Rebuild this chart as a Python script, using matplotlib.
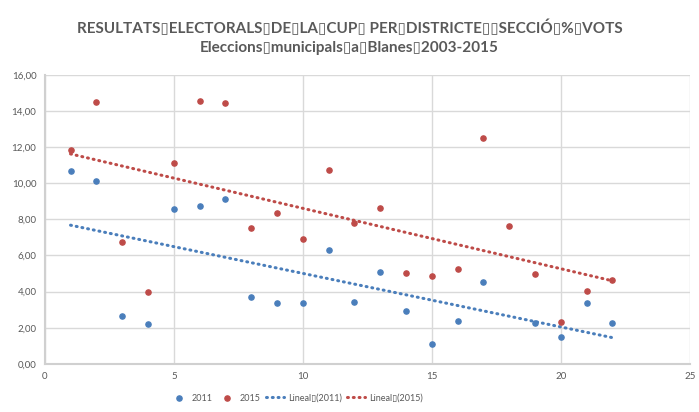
import numpy as np
import matplotlib.pyplot as plt
from matplotlib.ticker import FuncFormatter

# dades (districte / secció, % vots)
seccio = np.arange(1, 23)
vots_2011 = [10.68, 10.11, 2.64, 2.20, 8.58, 8.75, 9.13, 3.72, 3.38, 3.38, 6.30,
             3.43, 5.09, 2.93, 1.10, 2.38, 4.54, np.nan, 2.27, 1.50, 3.38, 2.27]
vots_2015 = [11.86, 14.50, 6.72, 3.99, 11.12, 14.55, 14.43, 7.51, 8.34, 6.93, 10.72,
             7.82, 8.64, 5.04, 4.86, 5.26, 12.53, 7.64, 4.98, 2.32, 4.04, 4.65]

blau = '#4a7ebb'
vermell = '#be4b48'
gris = '#595959'

plt.rcParams['font.family'] = ['Lato', 'DejaVu Sans']

fig = plt.figure(figsize=(6.99, 4.12), dpi=100)
ax = fig.add_axes([0.064, 0.117, 0.923, 0.701])

x = np.array(seccio, dtype=float)
for vals, color, any_ in [(vots_2011, blau, '2011'), (vots_2015, vermell, '2015')]:
    ax.scatter(x, vals, s=14, color=color, zorder=3, label=any_)

# línies de tendència lineals
for vals, color, any_ in [(vots_2011, blau, '2011'), (vots_2015, vermell, '2015')]:
    y = np.array(vals, dtype=float)
    ok = ~np.isnan(y)
    m, b = np.polyfit(x[ok], y[ok], 1)
    ax.plot(x, m * x + b, color=color, lw=2.2, linestyle=(0, (0.3, 1.6)),
            dash_capstyle='round', zorder=2, label='Lineal\u25af(' + any_ + ')')

ax.set_xlim(0, 25)
ax.set_ylim(0, 16)
ax.set_xticks([0, 5, 10, 15, 20, 25])
ax.set_yticks(np.arange(0, 17, 2))
ax.yaxis.set_major_formatter(FuncFormatter(lambda v, p: f'{v:.2f}'.replace('.', ',')))
ax.grid(True, color='#d9d9d9', lw=1)
ax.set_axisbelow(True)
for s in ['top', 'right']:
    ax.spines[s].set_visible(False)
for s in ['left', 'bottom']:
    ax.spines[s].set_color('#d0d0d0')
    ax.spines[s].set_linewidth(1.5)
ax.tick_params(length=0, labelsize=7, colors=gris, pad=6)

fig.text(0.5, 0.932, 'RESULTATS\u25afELECTORALS\u25afDE\u25afLA\u25afCUP\u25af PER\u25afDISTRICTE\u25af\u25afSECCIÓ\u25af%\u25afVOTS',
         ha='center', va='center', fontsize=11, fontweight='bold', color=gris)
fig.text(0.5, 0.883, 'Eleccions\u25afmunicipals\u25afa\u25afBlanes\u25af2003-2015',
         ha='center', va='center', fontsize=11, fontweight='bold', color=gris)

ax.legend(loc='upper center', bbox_to_anchor=(0.39, -0.075), ncol=4, frameon=False,
          fontsize=6.5, labelcolor=gris, handlelength=2.0, columnspacing=0.6,
          handletextpad=0.4)

fig.savefig('out.png', dpi=100)
